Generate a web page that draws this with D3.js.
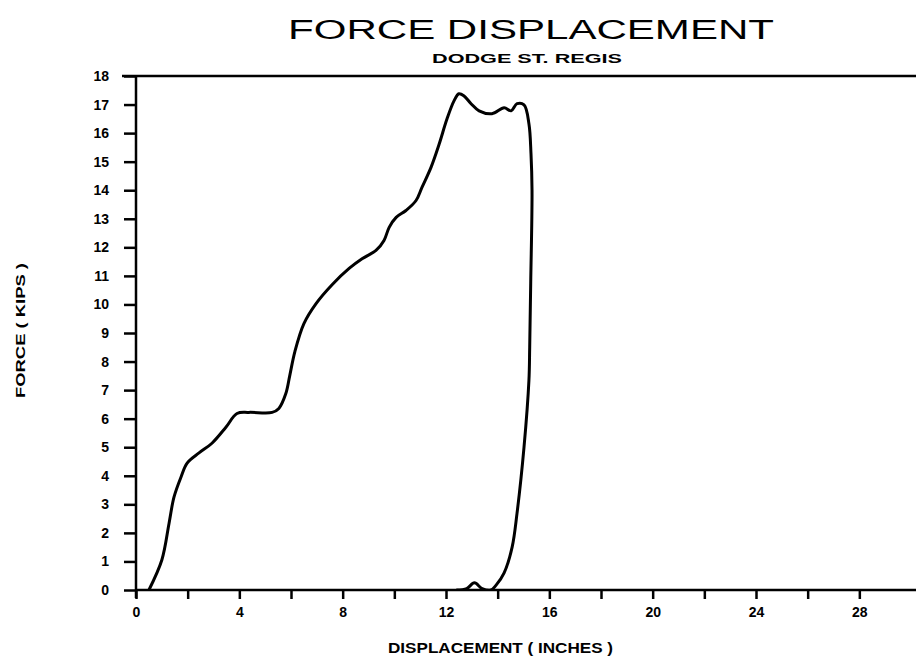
<!DOCTYPE html>
<html>
<head>
<meta charset="utf-8">
<script src="https://cdn.jsdelivr.net/npm/d3@7"></script>
<style>
  body { margin: 0; background: #fff; }
  text { font-family: "Liberation Sans", Arial, sans-serif; fill: #000; }
</style>
</head>
<body>
<div id="chart"></div>
<script>
const width = 916;
const height = 663;

// displacement (inches) and force (kips)
const displacement = [0.5, 1.0, 1.28, 1.47, 1.74, 1.98, 2.44, 2.94, 3.48, 3.91, 4.37, 5.27, 5.53, 5.8, 5.95,
  6.15, 6.5, 6.97, 7.6, 8.25, 8.75, 9.29, 9.6, 9.8, 10.07, 10.45, 10.84, 11.07, 11.42, 11.73,
  12.04, 12.31, 12.5, 12.7, 12.97, 13.28, 13.78, 14.25, 14.52, 14.75, 15.02, 15.21, 15.29, 15.33,
  15.28, 15.24, 15.21, 15.02, 14.75, 14.56, 14.25, 13.94, 13.74, 13.4, 13.1, 12.8, 12.4];
const force = [0, 1.05, 2.34, 3.25, 3.95, 4.44, 4.8, 5.14, 5.7, 6.18, 6.22, 6.22, 6.36, 6.88, 7.5,
  8.35, 9.33, 10.03, 10.7, 11.26, 11.6, 11.89, 12.24, 12.7, 13.05, 13.29, 13.64, 14.1, 14.8, 15.6,
  16.5, 17.13, 17.38, 17.3, 17.03, 16.78, 16.68, 16.89, 16.78, 17.03, 16.99, 16.33, 15.28, 13.99,
  10.8, 8.5, 7.34, 5.0, 2.69, 1.5, 0.6, 0.17, 0, 0.05, 0.25, 0.05, 0];

const xTicks = d3.range(0, 29, 2);
const xTickLabels = [0, 4, 8, 12, 16, 20, 24, 28];
const yTicks = d3.range(0, 19, 1);

const svg = d3.select("#chart")
  .append("svg")
  .attr("width", width)
  .attr("height", height);

const x = d3.scaleLinear().domain([0, 30]).range([136, 911]);
const y = d3.scaleLinear().domain([0, 18]).range([590, 76]);

// keep the smoothed line from dipping under the zero axis
svg.append("defs").append("clipPath")
  .attr("id", "plot-clip")
  .append("rect")
  .attr("x", 0).attr("y", 0)
  .attr("width", width).attr("height", y(0) + 1);

// frame: top line and bottom axis run out to the right edge
svg.append("line")
  .attr("x1", 122).attr("x2", width)
  .attr("y1", y(18)).attr("y2", y(18))
  .attr("stroke", "#000").attr("stroke-width", 2.5);

svg.append("line")
  .attr("x1", x(0)).attr("x2", width)
  .attr("y1", y(0)).attr("y2", y(0))
  .attr("stroke", "#000").attr("stroke-width", 2.5);

svg.append("line")
  .attr("x1", x(0)).attr("x2", x(0))
  .attr("y1", y(18)).attr("y2", y(0) + 8)
  .attr("stroke", "#000").attr("stroke-width", 2.5);

// x axis
const xAxis = svg.append("g")
  .attr("transform", `translate(0, ${y(0)})`)
  .call(d3.axisBottom(x).tickValues(xTicks).tickSize(9)
    .tickFormat(d => xTickLabels.includes(d) ? d : ""));
xAxis.select(".domain").remove();
xAxis.selectAll(".tick line").attr("stroke-width", 2.5);
xAxis.selectAll(".tick text")
  .attr("y", 17)
  .style("font-size", "14px")
  .style("font-weight", "bold")
  .style("font-family", "'Liberation Sans', Arial, sans-serif");

// y axis
const yAxis = svg.append("g")
  .attr("transform", `translate(${x(0)}, 0)`)
  .call(d3.axisLeft(y).tickValues(yTicks).tickSize(12));
yAxis.select(".domain").remove();
yAxis.selectAll(".tick line").attr("stroke-width", 2.5);
yAxis.selectAll(".tick text")
  .attr("x", -27)
  .style("font-size", "14px")
  .style("font-weight", "bold")
  .style("font-family", "'Liberation Sans', Arial, sans-serif");

// curve
const line = d3.line()
  .x((d, i) => x(displacement[i]))
  .y(d => y(d))
  .curve(d3.curveCatmullRom.alpha(0.5));

svg.append("path")
  .datum(force)
  .attr("d", line)
  .attr("clip-path", "url(#plot-clip)")
  .attr("fill", "none")
  .attr("stroke", "#000")
  .attr("stroke-width", 3)
  .attr("stroke-linejoin", "round");

// titles
svg.append("text")
  .attr("x", 288).attr("y", 39)
  .attr("textLength", 486)
  .attr("lengthAdjust", "spacingAndGlyphs")
  .style("font-size", "27px")
  .text("FORCE DISPLACEMENT");

svg.append("text")
  .attr("x", 432).attr("y", 63)
  .attr("textLength", 190)
  .attr("lengthAdjust", "spacingAndGlyphs")
  .style("font-size", "13px")
  .style("font-weight", "bold")
  .text("DODGE ST. REGIS");

svg.append("text")
  .attr("x", 388).attr("y", 653)
  .attr("textLength", 225)
  .attr("lengthAdjust", "spacingAndGlyphs")
  .style("font-size", "14px")
  .style("font-weight", "bold")
  .text("DISPLACEMENT ( INCHES )");

svg.append("text")
  .attr("transform", "translate(25, 398) rotate(-90)")
  .attr("textLength", 135)
  .attr("lengthAdjust", "spacingAndGlyphs")
  .style("font-size", "13px")
  .style("font-weight", "bold")
  .text("FORCE ( KIPS )");
</script>
</body>
</html>
